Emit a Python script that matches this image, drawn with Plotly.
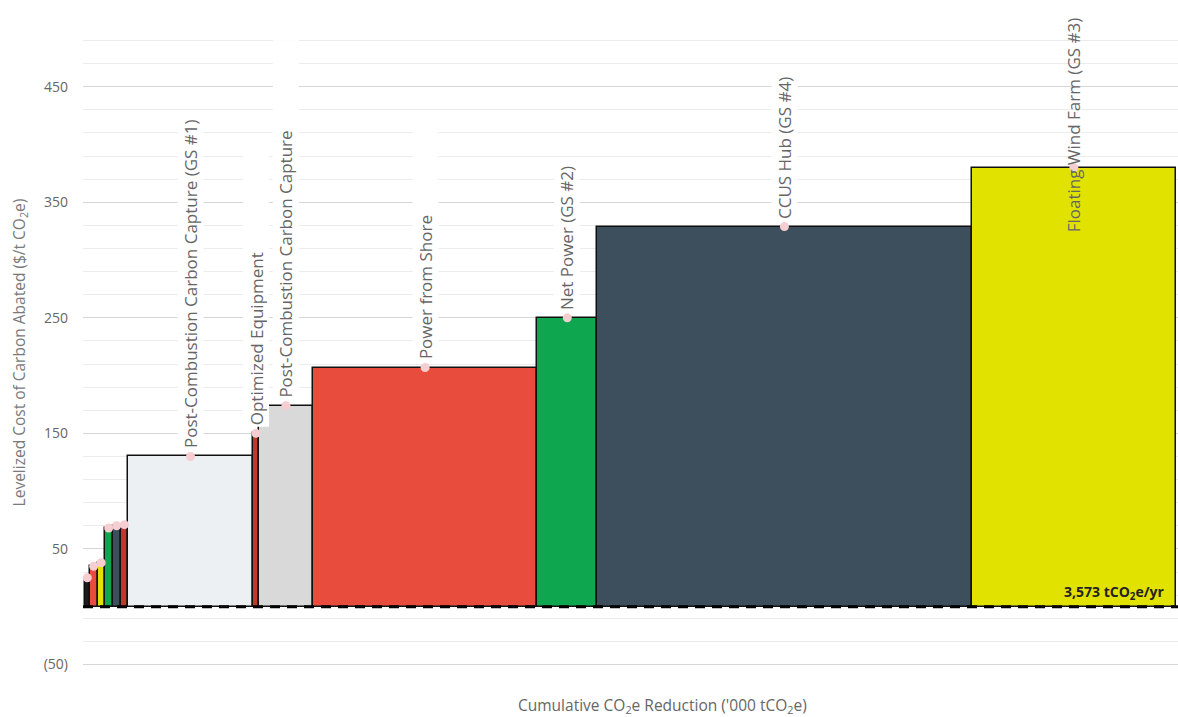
import plotly.graph_objects as go

# Abatement measures, in merit order (cheapest first)
labels = [
    "", "", "", "", "", "",
    "Post-Combustion Carbon Capture (GS #1)",
    "Optimized Equipment",
    "Post-Combustion Carbon Capture",
    "Power from Shore",
    "Net Power (GS #2)",
    "CCUS Hub (GS #4)",
    "Floating Wind Farm (GS #3)",
]
reduction = [16, 26, 23, 26, 26, 25, 408, 20, 177, 734, 197, 1225, 670]   # '000 tCO2e
cost = [25, 35, 38, 68, 70, 71, 130, 150, 174, 207, 250, 329, 380]         # $/t CO2e
colors = [
    "#1b1b1b", "#e74c3c", "#e2e200", "#0ea64f", "#3d4f5c", "#c0392b",
    "#ecf0f3", "#c0392b", "#d9d9d9", "#e74c3c", "#0ea64f", "#3d4f5c", "#e2e200",
]
# label background box length (px along the text); None = fit to text
label_box = [None] * 7 + [272, 356, 247, None, None, None]

major_ticks = [-50, 50, 150, 250, 350, 450]
major_text = ["(50)", "50", "150", "250", "350", "450"]

# bar geometry derived from the widths
centers = []
acc = 0
for w in reduction:
    centers.append(acc + w / 2)
    acc += w
total = acc

FONT = "Open Sans"
GREY = "#666666"
LABEL_SIZE = 17

fig = go.Figure()
fig.add_trace(go.Bar(
    x=centers, y=cost, width=reduction,
    marker=dict(color=colors, line=dict(color="#111111", width=1.5)),
    hoverinfo="skip", showlegend=False,
))
fig.add_trace(go.Scatter(
    x=centers, y=cost, mode="markers",
    marker=dict(color="#f6cdd0", size=9),
    hoverinfo="skip", showlegend=False,
))

# zero baseline
fig.add_shape(type="line", xref="paper", x0=0, x1=1, yref="y", y0=0, y1=0,
              line=dict(color="#000000", width=3, dash="10px,7px"), layer="above")

# measure labels
for i, (lab, xc, c, box) in enumerate(zip(labels, centers, cost, label_box)):
    if not lab:
        continue
    font = dict(family=FONT, size=LABEL_SIZE, color=GREY)
    if i == len(labels) - 1:
        # clamp the last label to the top of the chart
        fig.add_annotation(x=xc, y=1, yref="paper", yanchor="top", yshift=14,
                           text=lab, textangle=-90, showarrow=False, font=font)
    else:
        fig.add_annotation(x=xc, y=c, yanchor="bottom", yshift=6,
                           text=lab, textangle=-90, showarrow=False,
                           width=box, align="left",
                           bgcolor="white", font=font)

fig.add_annotation(x=total, y=0, xanchor="right", yanchor="bottom", xshift=-10, yshift=2,
                   text=f"<b>{total:,.0f} tCO<sub>2</sub>e/yr</b>", showarrow=False,
                   font=dict(family=FONT, size=14, color="#222222"))

# x-axis title
fig.add_annotation(xref="paper", yref="paper", x=0.529, y=0, yanchor="top", yshift=-16,
                   text="Cumulative CO<sub>2</sub>e Reduction ('000 tCO<sub>2</sub>e)",
                   showarrow=False, font=dict(family=FONT, size=15.5, color=GREY))

fig.update_layout(
    width=1178, height=717,
    margin=dict(l=83, r=0, t=29, b=41),
    plot_bgcolor="white", paper_bgcolor="white",
    font=dict(family=FONT, color=GREY),
    bargap=0,
    xaxis=dict(
        range=[-6, total + 6], showticklabels=False, showgrid=False, zeroline=False,
    ),
    yaxis=dict(
        range=[-60, 500], tickmode="array", tickvals=major_ticks, ticktext=major_text,
        tickfont=dict(size=14, color=GREY), ticks="", ticklabelstandoff=14,
        showgrid=True, gridcolor="#d6d6d6", gridwidth=1, zeroline=False,
        minor=dict(tickmode="linear", tick0=-50, dtick=20, showgrid=True,
                   gridcolor="#ececec", gridwidth=1),
        title=dict(text="Levelized Cost of Carbon Abated ($/t CO<sub>2</sub>e)",
                   font=dict(size=15.5, color="#7a7a7a"), standoff=14),
    ),
)

fig.write_html("out.html")
